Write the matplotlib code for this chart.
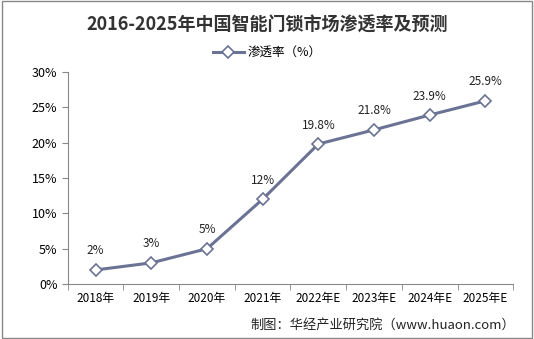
import matplotlib
matplotlib.use('Agg')
import matplotlib.pyplot as plt
from matplotlib.patches import Rectangle

plt.rcParams['font.family'] = ['Noto Sans CJK SC', 'DejaVu Sans']

# 数据
years = ['2018年', '2019年', '2020年', '2021年', '2022年E', '2023年E', '2024年E', '2025年E']
rate = [2, 3, 5, 12, 19.8, 21.8, 23.9, 25.9]
labels = ['2%', '3%', '5%', '12%', '19.8%', '21.8%', '23.9%', '25.9%']
yticks = [0, 5, 10, 15, 20, 25, 30]

line_color = '#6b7394'

fig = plt.figure(figsize=(5.34, 3.39), dpi=100)
ax = fig.add_axes([0.127, 0.162, 0.834, 0.626])

x = list(range(len(years)))
ax.plot(x, rate, color=line_color, lw=2.2, marker='D', ms=6,
        markerfacecolor='white', markeredgecolor=line_color, markeredgewidth=1.2,
        label='渗透率（%）', zorder=3)

for xi, yi, lab in zip(x, rate, labels):
    ax.annotate(lab, (xi, yi), xytext=(0, 9), textcoords='offset points',
                ha='center', va='bottom', fontsize=8.5, color='#222222')

ax.set_xlim(-0.5, len(years) - 0.5)
ax.set_ylim(0, 30)
ax.set_yticks(yticks)
ax.set_yticklabels([f'{v}%' for v in yticks], fontsize=9)
ax.set_xticks(x)
ax.set_xticklabels(years, fontsize=8.5)
ax.set_xticks([i - 0.5 for i in range(len(years) + 1)], minor=True)
ax.tick_params(axis='x', which='major', length=0, pad=6)
ax.tick_params(axis='x', which='minor', length=4, color='#888888')
ax.tick_params(axis='y', length=4, color='#888888')

for s in ['top', 'right']:
    ax.spines[s].set_visible(False)
ax.spines['left'].set_color('#888888')
ax.spines['bottom'].set_color('#888888')

fig.text(0.5, 0.925, '2016-2025年中国智能门锁市场渗透率及预测', ha='center', va='center',
         fontsize=13, fontweight='bold', color='#333333')
fig.legend(loc='center', bbox_to_anchor=(0.5, 0.845), frameon=False, fontsize=9,
           handlelength=2.5, handletextpad=0.3)

fig.text(0.965, 0.04, '制图：华经产业研究院（www.huaon.com）', ha='right', va='center',
         fontsize=9.5, color='#222222')

fig.patches.append(Rectangle((0.003, 0.004), 0.994, 0.992, transform=fig.transFigure,
                             fill=False, edgecolor='#888888', lw=1))

fig.savefig('out.png', dpi=100)
